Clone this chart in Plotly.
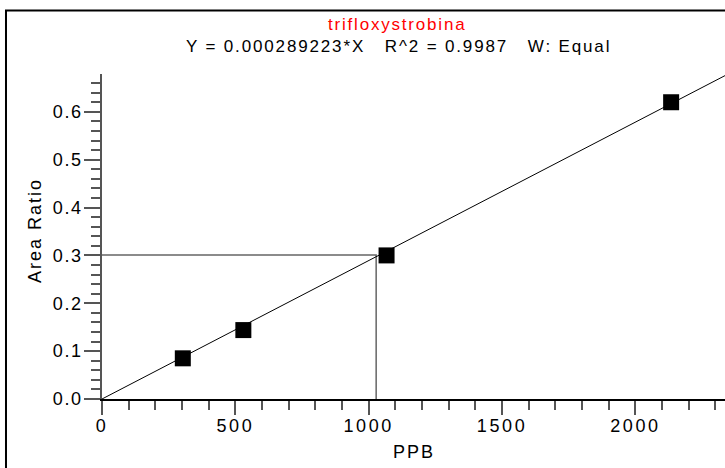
import plotly.graph_objects as go

# ---- data ----
ppb = [303, 530, 1067, 2134]
area_ratio = [0.085, 0.144, 0.300, 0.620]
slope = 0.000289223
line_x = [0, 2340]
cross_x = 1028
cross_y = 0.301

x_tick_vals = [0, 500, 1000, 1500, 2000]
x_tick_text = ["0", "500", "1000", "1500", "2000"]
y_tick_vals = [0.0, 0.1, 0.2, 0.3, 0.4, 0.5, 0.6]
y_tick_text = ["0.0", "0.1", "0.2", "0.3", "0.4", "0.5", "0.6"]

title_name = "trifloxystrobina"
title_eq = "Y = 0.000289223*X\u00a0\u00a0 R^2 = 0.9987\u00a0\u00a0 W: Equal"
x_title = "PPB"
y_title = "Area Ratio"

x_range = [0, 2336]
y_range = [0, 0.679]

FONT = "Liberation Sans, Arial, sans-serif"


def spaced(t, px):
    return f'<span style="letter-spacing:{px}px">{t}</span>'


line_y = [slope * v for v in line_x]

fig = go.Figure()
# crosshair
fig.add_trace(go.Scatter(x=[0, cross_x, cross_x], y=[cross_y, cross_y, 0], mode="lines",
                         line=dict(color="#666666", width=1.5), hoverinfo="skip"))
# calibration line
fig.add_trace(go.Scatter(x=line_x, y=line_y, mode="lines",
                         line=dict(color="black", width=1), hoverinfo="skip"))
# standards
fig.add_trace(go.Scatter(x=ppb, y=area_ratio, mode="markers",
                         marker=dict(symbol="square", size=16, color="black",
                                     line=dict(width=0))))

fig.update_layout(
    width=725, height=468,
    margin=dict(l=102, r=0, t=74, b=69, pad=0),
    paper_bgcolor="white", plot_bgcolor="white",
    showlegend=False,
    font=dict(family=FONT, color="black"),
    xaxis=dict(range=x_range, showgrid=False, zeroline=False,
               showline=True, linecolor="black", linewidth=1.5,
               ticks="outside", ticklen=14, tickwidth=1.5, tickcolor="#555555",
               tickvals=x_tick_vals, ticktext=[spaced(t, 2.6) for t in x_tick_text],
               tickfont=dict(family=FONT, size=18, color="black"),
               ticklabelstandoff=-4,
               minor=dict(dtick=100, tick0=0, ticks="outside", ticklen=9,
                          tickwidth=1.5, tickcolor="#555555", showgrid=False)),
    yaxis=dict(range=y_range, showgrid=False, zeroline=False,
               showline=True, linecolor="#555555", linewidth=1.5,
               ticks="outside", ticklen=16, tickwidth=1.5, tickcolor="#555555",
               tickvals=y_tick_vals, ticktext=[spaced(t, 1.6) for t in y_tick_text],
               tickfont=dict(family=FONT, size=18, color="black"),
               ticklabelstandoff=-2,
               minor=dict(dtick=0.02, tick0=0, ticks="outside", ticklen=9,
                          tickwidth=1.5, tickcolor="#555555", showgrid=False)),
)

# outer frame (partly cropped in the reference)
fig.add_shape(type="rect", xref="paper", yref="paper",
              x0=-0.1541, x1=1.3, y0=-0.6, y1=1.1954,
              line=dict(color="black", width=2), fillcolor="rgba(0,0,0,0)", layer="above")

fig.add_annotation(text=spaced(title_name, 1.8), xref="paper", yref="paper",
                   x=0.4735, y=1.1538, showarrow=False, xanchor="center", yanchor="middle",
                   font=dict(family=FONT, size=17, color="#ff0000"))
fig.add_annotation(text=spaced(title_eq, 1.85), xref="paper", yref="paper",
                   x=0.4767, y=1.0831, showarrow=False, xanchor="center", yanchor="middle",
                   font=dict(family=FONT, size=17, color="black"))
fig.add_annotation(text=spaced(x_title, 2), xref="paper", yref="paper",
                   x=0.5008, y=-0.1631, showarrow=False, xanchor="center", yanchor="middle",
                   font=dict(family=FONT, size=18, color="black"))
fig.add_annotation(text=spaced(y_title, 2), xref="paper", yref="paper",
                   x=-0.1075, y=0.517, showarrow=False, xanchor="center", yanchor="middle",
                   textangle=-90, font=dict(family=FONT, size=18, color="black"))

fig.write_html("out.html")
